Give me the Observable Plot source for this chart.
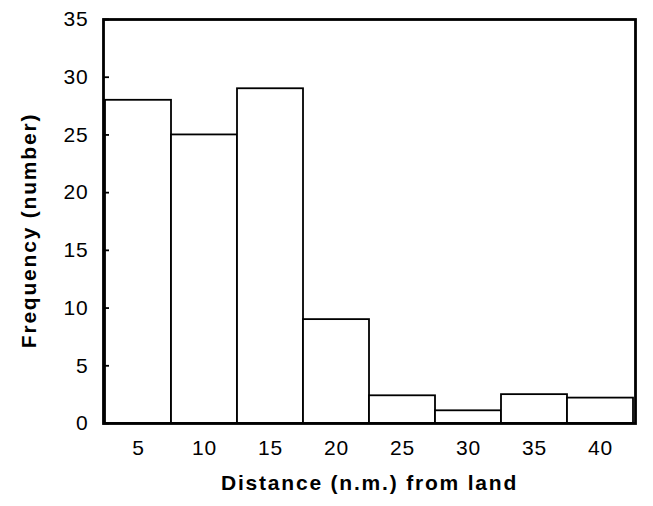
<!DOCTYPE html>
<html>
<head>
<meta charset="utf-8">
<script src="https://cdn.jsdelivr.net/npm/d3@7"></script>
<script src="https://cdn.jsdelivr.net/npm/@observablehq/plot@0.6"></script>
<style>
  html, body { margin: 0; padding: 0; background: #fff; }
  #chart svg { display: block; }
  .title-text text { letter-spacing: 1.8px; }
  .tick-text text { letter-spacing: 0.8px; font-size: 21px; }
</style>
</head>
<body>
<div id="chart"></div>
<script>
const distances = ["5", "10", "15", "20", "25", "30", "35", "40"];
const frequencies = [28, 25, 29, 9, 2.4, 1.1, 2.5, 2.2];
const yTicks = [0, 5, 10, 15, 20, 25, 30, 35];
const xTitle = "Distance (n.m.) from land";
const yTitle = "Frequency (number)";

const data = distances.map((d, i) => ({distance: d, frequency: frequencies[i]}));

const chart = Plot.plot({
  width: 653,
  height: 506,
  marginLeft: 103,
  marginRight: 18,
  marginTop: 19,
  marginBottom: 83,
  style: {fontFamily: "'Liberation Sans', Arial, sans-serif", color: "#000", background: "#fff"},
  x: {domain: distances, padding: 0},
  y: {domain: [0, 35]},
  marks: [
    Plot.barY(data, {x: "distance", y: "frequency", fill: "white", stroke: "black", strokeWidth: 1.8}),
    Plot.frame({stroke: "black", strokeWidth: 2.8}),
    Plot.axisY(yTicks, {tickSize: 0, tickPadding: 15, label: null, fontSize: 21, className: "tick-text"}),
    Plot.axisY(yTicks, {tickSize: -6, strokeWidth: 1.8, text: null, label: null}),
    Plot.axisX({tickSize: 0, tickPadding: 17, label: null, fontSize: 21, className: "tick-text"}),
    Plot.text([xTitle], {frameAnchor: "bottom", lineAnchor: "middle", textAnchor: "middle", dy: 60, fontWeight: "bold", fontSize: 21, className: "title-text"}),
    Plot.text([yTitle], {frameAnchor: "left", lineAnchor: "middle", textAnchor: "middle", dx: -74, dy: 9, rotate: -90, fontWeight: "bold", fontSize: 21, className: "title-text"})
  ]
});
document.getElementById("chart").appendChild(chart);
</script>
</body>
</html>
